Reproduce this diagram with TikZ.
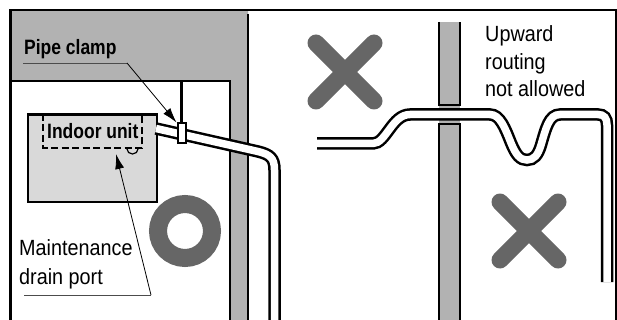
\documentclass[tikz,border=0pt]{standalone}
\usepackage{fontspec}
\setmainfont{Liberation Sans}[FakeStretch=0.9,BoldFeatures={FakeStretch=0.84}]
\usetikzlibrary{arrows.meta}

\tikzset{
  wall/.style={fill=wallgray,draw=none},
  wall line/.style={line width=2.6pt},
  pipe/.style={line width=2.5pt,double=white,double distance=7.5pt},
  leader/.style={line width=0.9pt,draw=black!70},
  leader arrow/.style={line width=0.8pt,-{Latex[length=15pt,width=9pt]}},
  mark stroke/.style={line width=17pt,line cap=round,draw=markgray},
  plain label/.style={font=\fontsize{22}{27.5}\selectfont,align=left,inner sep=0pt,anchor=base west},
  bold label/.style={font=\fontsize{20.8}{24}\selectfont\bfseries,inner sep=0pt,anchor=base west}
}
\definecolor{wallgray}{gray}{0.7}
\definecolor{unitgray}{gray}{0.85}
\definecolor{markgray}{gray}{0.4}

\begin{document}
\begin{tikzpicture}[x=1pt,y=-1pt]
\useasboundingbox (0,0) rectangle (617,320);

%left wall
\fill[wall] (10,10) -- (248,10) -- (248,320) -- (230,320) -- (230,81) -- (10,81) -- cycle;
\draw[wall line] (10.5,320) -- (10.5,10) -- (616,10) -- (616,320);
\draw[wall line] (10,81) -- (230,81) -- (230,320);
\draw[wall line] (248,14) -- (248,320);

%indoor unit
\node[draw,line width=2.6pt,fill=unitgray,minimum width=129pt,minimum height=87pt,anchor=north west,inner sep=0pt] (unit) at (26.5,113.5) {};
\draw[dashed,line width=1.2pt,dash pattern=on 7pt off 3.5pt] (43,114) rectangle (142,148);
\draw[line width=1.2pt] (127,149) arc[start angle=180,end angle=0,x radius=5.5pt,y radius=-5pt];
\node[bold label] (unitlabel) at (47,139) {Indoor unit};

%pipe to the left
\draw[line width=3pt] (181.5,81) -- (181.5,124);
\draw[pipe] (156,128.5) -- (258,151.5) .. controls (270,154.5) and (274.5,158) .. (274.5,170) -- (274.5,320);
\node[draw,line width=2pt,fill=white,minimum width=8pt,minimum height=20pt,inner sep=0pt] (clamp) at (181.5,133.5) {};

%labels and leaders
\node[bold label] (clamplabel) at (24,55) {Pipe clamp};
\coordinate (a1) at (23,63);
\coordinate (a2) at (127,63);
\draw[leader] (a1) -- (a2);
\draw[leader arrow] (a2) -- (clamp.north west);
\node[plain label] (portlabel) at (19,284) {Maintenance\\[1.5pt]drain port};
\coordinate (b1) at (24,295);
\coordinate (b2) at (151,295);
\coordinate (b3) at (116,154);
\draw[leader] (b1) -- (b2);
\draw[leader arrow] (b2) -- (b3);

%allowed and not allowed marks
\draw[line width=18pt,draw=markgray] (185,231) circle (27pt);
\draw[mark stroke] (316,43) -- (374,101) (316,101) -- (374,43);
\draw[mark stroke] (500,202) -- (558,260) (500,260) -- (558,202);

%middle wall
\fill[wall] (439,22) rectangle (460,320);
\draw[wall line] (439,22) -- (439,105) -- (460,105) -- (460,22);
\draw[wall line] (439,320) -- (439,124) -- (460,124) -- (460,320);

%pipe to the right
\draw[pipe] (317,143.5) -- (373,143.5) .. controls (386,143.5) and (392,114.5) .. (410,114.5) -- (490,114.5) .. controls (500,114.5) and (505,128) .. (511,143) .. controls (516,155) and (520,160) .. (527,160) .. controls (534,160) and (538,155) .. (541,145) .. controls (546,128) and (549,114.5) .. (560,114.5) -- (598,114.5) .. controls (604,114.5) and (607,118) .. (607,125) -- (607,282);

\node[plain label] (uplabel) at (485,97) {Upward\\routing\\not allowed};

\end{tikzpicture}
\end{document}
